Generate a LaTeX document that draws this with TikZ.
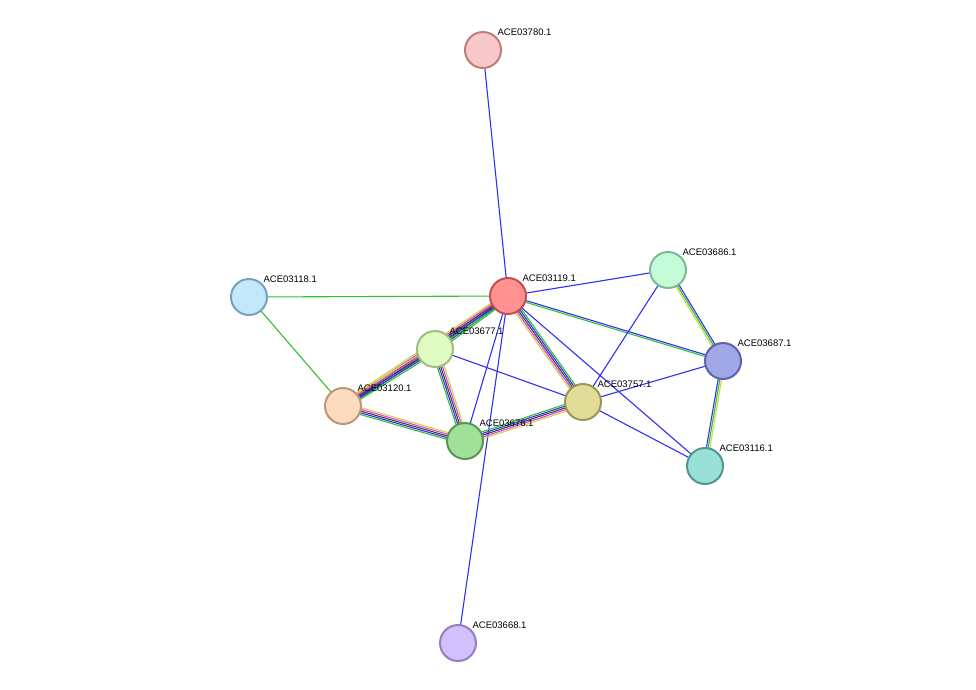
\documentclass[tikz,border=0pt]{standalone}
\usepackage{fontspec}
\setmainfont{Liberation Sans}
\usetikzlibrary{calc,backgrounds}
\definecolor{ey}{HTML}{C8D840}
\definecolor{em}{HTML}{E040E0}
\definecolor{ek}{HTML}{404040}
\definecolor{eb}{HTML}{3030F0}
\definecolor{eg}{HTML}{30C030}
\tikzset{
    prot/.style={circle,draw,line width=2pt,minimum size=36pt,inner sep=0pt},
    tag/.style={label={[anchor=south west,inner sep=1pt,font=\fontsize{9.5}{10}\selectfont]45:#1}},
    link/.style={line width=1.1pt}
}
\newcommand\edgeset[4]{%
    \foreach \c [count=\i] in {#4}{%
        \pgfmathsetmacro\off{(\i-(#3+1)/2)*1.7}
        \draw[link,\c] ($(#1)!\off pt!90:(#2)$) -- ($(#2)!\off pt!-90:(#1)$);
    }}
\begin{document}
\begin{tikzpicture}[x=1pt,y=-1pt]
    \useasboundingbox (0,0) rectangle (976,689);

    \node[prot,fill={rgb,255:red,249;green,200;blue,200},draw={rgb,255:red,190;green,125;blue,125},tag=ACE03780.1] (p3780) at (483,50) {};
    \node[prot,fill={rgb,255:red,255;green,145;blue,145},draw={rgb,255:red,195;green,80;blue,80},tag=ACE03119.1] (p3119) at (508,296) {};
    \node[prot,fill={rgb,255:red,195;green,252;blue,215},draw={rgb,255:red,125;green,185;blue,150},tag=ACE03686.1] (p3686) at (668,270) {};
    \node[prot,fill={rgb,255:red,195;green,232;blue,252},draw={rgb,255:red,120;green,160;blue,190},tag=ACE03118.1] (p3118) at (249,297) {};
    \node[prot,fill={rgb,255:red,225;green,252;blue,195},draw={rgb,255:red,160;green,190;blue,125},tag=ACE03677.1] (p3677) at (435,349) {};
    \node[prot,fill={rgb,255:red,160;green,168;blue,232},draw={rgb,255:red,95;green,100;blue,170},tag=ACE03687.1] (p3687) at (723,361) {};
    \node[prot,fill={rgb,255:red,252;green,220;blue,192},draw={rgb,255:red,190;green,150;blue,120},tag=ACE03120.1] (p3120) at (343,406) {};
    \node[prot,fill={rgb,255:red,225;green,220;blue,152},draw={rgb,255:red,155;green,150;blue,85},tag=ACE03757.1] (p3757) at (583,402) {};
    \node[prot,fill={rgb,255:red,160;green,224;blue,152},draw={rgb,255:red,90;green,150;blue,85},tag=ACE03676.1] (p3676) at (465,441) {};
    \node[prot,fill={rgb,255:red,152;green,224;blue,216},draw={rgb,255:red,80;green,150;blue,145},tag=ACE03116.1] (p3116) at (705,466) {};
    \node[prot,fill={rgb,255:red,210;green,192;blue,252},draw={rgb,255:red,150;green,125;blue,190},tag=ACE03668.1] (p3668) at (458,643) {};

    \begin{scope}[on background layer]
        \edgeset{p3780}{p3119}{1}{eb}
        \edgeset{p3119}{p3668}{1}{eb}
        \edgeset{p3118}{p3119}{1}{eg}
        \edgeset{p3118}{p3120}{1}{eg}
        \edgeset{p3119}{p3686}{1}{eb}
        \edgeset{p3119}{p3687}{2}{eg,eb}
        \edgeset{p3119}{p3116}{1}{eb}
        \edgeset{p3119}{p3676}{1}{eb}
        \edgeset{p3119}{p3677}{5}{ey,em,ek,eb,eg}
        \edgeset{p3119}{p3757}{5}{ey,em,ek,eb,eg}
        \edgeset{p3119}{p3120}{5}{ey,em,ek,eb,eg}
        \edgeset{p3686}{p3687}{3}{ey,eg,eb}
        \edgeset{p3686}{p3757}{1}{eb}
        \edgeset{p3687}{p3116}{3}{eb,eg,ey}
        \edgeset{p3687}{p3757}{1}{eb}
        \edgeset{p3757}{p3116}{1}{eb}
        \edgeset{p3677}{p3757}{1}{eb}
        \edgeset{p3677}{p3120}{5}{ey,em,ek,eb,eg}
        \edgeset{p3677}{p3676}{5}{eg,eb,ek,em,ey}
        \edgeset{p3120}{p3676}{5}{eg,eb,ek,em,ey}
        \edgeset{p3676}{p3757}{5}{ey,em,ek,eb,eg}
    \end{scope}
\end{tikzpicture}
\end{document}
